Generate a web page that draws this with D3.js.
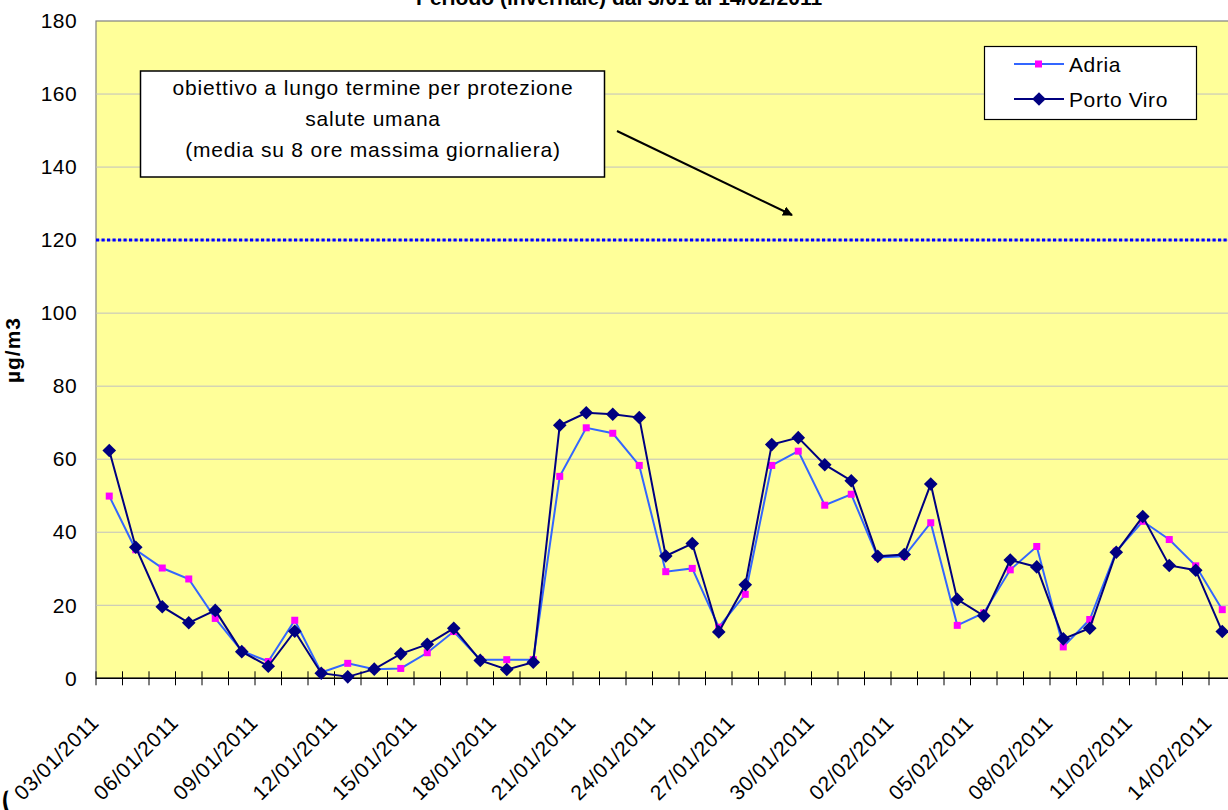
<!DOCTYPE html>
<html>
<head>
<meta charset="utf-8">
<script src="https://cdn.jsdelivr.net/npm/d3@7"></script>
<style>
  body { margin: 0; background: #fff; }
  svg { display: block; font-family: 'Liberation Sans', Arial, sans-serif; }
</style>
</head>
<body>
<svg id="chart" width="1228" height="810"></svg>
<script>
const dates = [
  '03/01/2011', '04/01/2011', '05/01/2011', '06/01/2011', '07/01/2011', '08/01/2011',
  '09/01/2011', '10/01/2011', '11/01/2011', '12/01/2011', '13/01/2011', '14/01/2011',
  '15/01/2011', '16/01/2011', '17/01/2011', '18/01/2011', '19/01/2011', '20/01/2011',
  '21/01/2011', '22/01/2011', '23/01/2011', '24/01/2011', '25/01/2011', '26/01/2011',
  '27/01/2011', '28/01/2011', '29/01/2011', '30/01/2011', '31/01/2011', '01/02/2011',
  '02/02/2011', '03/02/2011', '04/02/2011', '05/02/2011', '06/02/2011', '07/02/2011',
  '08/02/2011', '09/02/2011', '10/02/2011', '11/02/2011', '12/02/2011', '13/02/2011',
  '14/02/2011'
];
const adria = [49.9, 35.2, 30.2, 27.2, 16.4, 7.5, 4.6, 15.9, 1.6, 4.1, 2.5, 2.7, 7.0,
  12.8, 5.1, 5.1, 5.1, 55.3, 68.6, 67.1, 58.3, 29.2, 30.1, 14.0, 23.0, 58.3, 62.2, 47.4,
  50.4, 33.1, 33.4, 42.6, 14.5, 17.9, 29.7, 36.1, 8.6, 16.1, 34.8, 43.0, 38.0, 30.8, 18.8];
const portoViro = [62.4, 35.9, 19.6, 15.2, 18.6, 7.3, 3.3, 12.9, 1.4, 0.4, 2.5, 6.7, 9.3,
  13.7, 4.9, 2.4, 4.4, 69.3, 72.7, 72.3, 71.4, 33.5, 36.9, 12.7, 25.6, 64.0, 65.9, 58.5,
  54.1, 33.4, 33.9, 53.2, 21.6, 17.1, 32.4, 30.5, 10.8, 13.7, 34.5, 44.3, 30.9, 29.6, 12.8];
const yTicks = [0, 20, 40, 60, 80, 100, 120, 140, 160, 180];
const xLabels = dates.filter((d, i) => i % 3 === 0);
const target = 120; // obiettivo a lungo termine
const title = 'Periodo (invernale) dal 3/01 al 14/02/2011';
const noteLines = ['obiettivo a lungo termine per protezione', 'salute umana',
  '(media su 8 ore massima giornaliera)'];

const svg = d3.select('#chart');
const plotL = 96, plotR = 1235.5, plotT = 21, plotB = 678.3;
const font = 21;

var x = d3.scaleBand().domain(dates).range([plotL, plotR]);
var y = d3.scaleLinear().domain([0, 180]).range([plotB, plotT]);
var cx = d => x(d) + x.bandwidth() / 2;

// plot area
svg.append('rect')
  .attr('x', plotL).attr('y', plotT)
  .attr('width', plotR - plotL).attr('height', plotB - plotT)
  .attr('fill', '#FFFF99').attr('stroke', '#808080').attr('stroke-width', 1.2);

svg.append('g').selectAll('line')
  .data(yTicks.filter(v => v > 0 && v < 180))
  .enter().append('line')
  .attr('x1', plotL).attr('x2', plotR)
  .attr('y1', d => y(d)).attr('y2', d => y(d))
  .attr('stroke', '#C0C0C0').attr('stroke-width', 1);

// title (cut at the top, as in the source)
svg.append('text')
  .attr('x', 619).attr('y', 5)
  .attr('text-anchor', 'middle')
  .attr('font-weight', 'bold').attr('font-size', font)
  .text(title);

// y axis
var yAxis = svg.append('g')
  .attr('transform', 'translate(' + plotL + ',0)')
  .call(d3.axisLeft(y).tickValues(yTicks).tickSize(0).tickPadding(19));
yAxis.select('.domain').remove();
yAxis.selectAll('text')
  .attr('font-size', font).attr('font-family', 'Liberation Sans, Arial, sans-serif')
  .attr('fill', '#000').attr('letter-spacing', 0.4);

svg.append('text')
  .attr('transform', 'translate(20,350) rotate(-90)')
  .attr('text-anchor', 'middle')
  .attr('font-weight', 'bold').attr('font-size', font)
  .attr('letter-spacing', 1)
  .text('µg/m3');

// x axis
svg.append('line')
  .attr('x1', plotL).attr('x2', plotR)
  .attr('y1', plotB).attr('y2', plotB)
  .attr('stroke', '#000').attr('stroke-width', 1.6);

svg.append('g').selectAll('line')
  .data(dates.map(d => x(d)).concat([plotR]))
  .enter().append('line')
  .attr('x1', d => d).attr('x2', d => d)
  .attr('y1', plotB - 7).attr('y2', plotB + 7)
  .attr('stroke', '#000').attr('stroke-width', 1);

svg.append('g').selectAll('text')
  .data(xLabels)
  .enter().append('text')
  .attr('transform', d => 'translate(' + (cx(d) - 9) + ',724) rotate(-45)')
  .attr('text-anchor', 'end')
  .attr('font-size', font).attr('letter-spacing', 0.6)
  .text(d => d);

svg.append('text')
  .attr('transform', 'translate(12,818) rotate(-20)')
  .attr('text-anchor', 'middle')
  .attr('font-size', 38)
  .text('(');

// target line
svg.append('line')
  .attr('x1', plotL).attr('x2', plotR)
  .attr('y1', y(target)).attr('y2', y(target))
  .attr('stroke', '#0000FF').attr('stroke-width', 3)
  .attr('stroke-dasharray', '3.2,2.3');

// series
var line = d3.line().x((d, i) => cx(dates[i])).y(d => y(d));

var diamond = 'M0,-6.8L6.8,0L0,6.8L-6.8,0Z';

svg.append('path').datum(adria)
  .attr('d', line).attr('fill', 'none')
  .attr('stroke', '#3366FF').attr('stroke-width', 2);
svg.append('g').selectAll('rect')
  .data(adria).enter().append('rect')
  .attr('x', (d, i) => cx(dates[i]) - 3.5).attr('y', d => y(d) - 3.5)
  .attr('width', 7).attr('height', 7)
  .attr('fill', '#FF00FF');

svg.append('path').datum(portoViro)
  .attr('d', line).attr('fill', 'none')
  .attr('stroke', '#000080').attr('stroke-width', 2);
svg.append('g').selectAll('path')
  .data(portoViro).enter().append('path')
  .attr('transform', (d, i) => 'translate(' + cx(dates[i]) + ',' + y(d) + ')')
  .attr('d', diamond)
  .attr('fill', '#000080');

// annotation box + arrow
svg.append('rect')
  .attr('x', 140.5).attr('y', 71).attr('width', 464).attr('height', 106)
  .attr('fill', '#fff').attr('stroke', '#000').attr('stroke-width', 1.5);
svg.append('g').selectAll('text')
  .data(noteLines).enter().append('text')
  .attr('x', 373).attr('y', (d, i) => 95 + i * 31)
  .attr('text-anchor', 'middle')
  .attr('font-size', font).attr('letter-spacing', 0.8)
  .text(d => d);

svg.append('defs').append('marker')
  .attr('id', 'arrow').attr('viewBox', '0 0 10 10')
  .attr('refX', 9).attr('refY', 5)
  .attr('markerWidth', 5).attr('markerHeight', 5)
  .attr('orient', 'auto')
  .append('path').attr('d', 'M0,0L10,5L0,10Z').attr('fill', '#000');
svg.append('line')
  .attr('x1', 617).attr('y1', 131).attr('x2', 792).attr('y2', 215)
  .attr('stroke', '#000').attr('stroke-width', 2)
  .attr('marker-end', 'url(#arrow)');

// legend
var legend = svg.append('g');
legend.append('rect')
  .attr('x', 984.5).attr('y', 46.5).attr('width', 212).attr('height', 73)
  .attr('fill', '#fff').attr('stroke', '#000').attr('stroke-width', 1.2);
var items = [
  { name: 'Adria', color: '#3366FF', mark: '#FF00FF', y: 64 },
  { name: 'Porto Viro', color: '#000080', mark: '#000080', y: 99 }
];
items.forEach(function (it, k) {
  legend.append('line')
    .attr('x1', 1014).attr('x2', 1064).attr('y1', it.y).attr('y2', it.y)
    .attr('stroke', it.color).attr('stroke-width', 2);
  if (k === 0) {
    legend.append('rect')
      .attr('x', 1035).attr('y', it.y - 3.5).attr('width', 7).attr('height', 7)
      .attr('fill', it.mark);
  } else {
    legend.append('path')
      .attr('transform', 'translate(1039,' + it.y + ')')
      .attr('d', diamond).attr('fill', it.mark);
  }
  legend.append('text')
    .attr('x', 1069).attr('y', it.y + 7.5)
    .attr('font-size', font).attr('letter-spacing', 0.6)
    .text(it.name);
});
</script>
</body>
</html>
